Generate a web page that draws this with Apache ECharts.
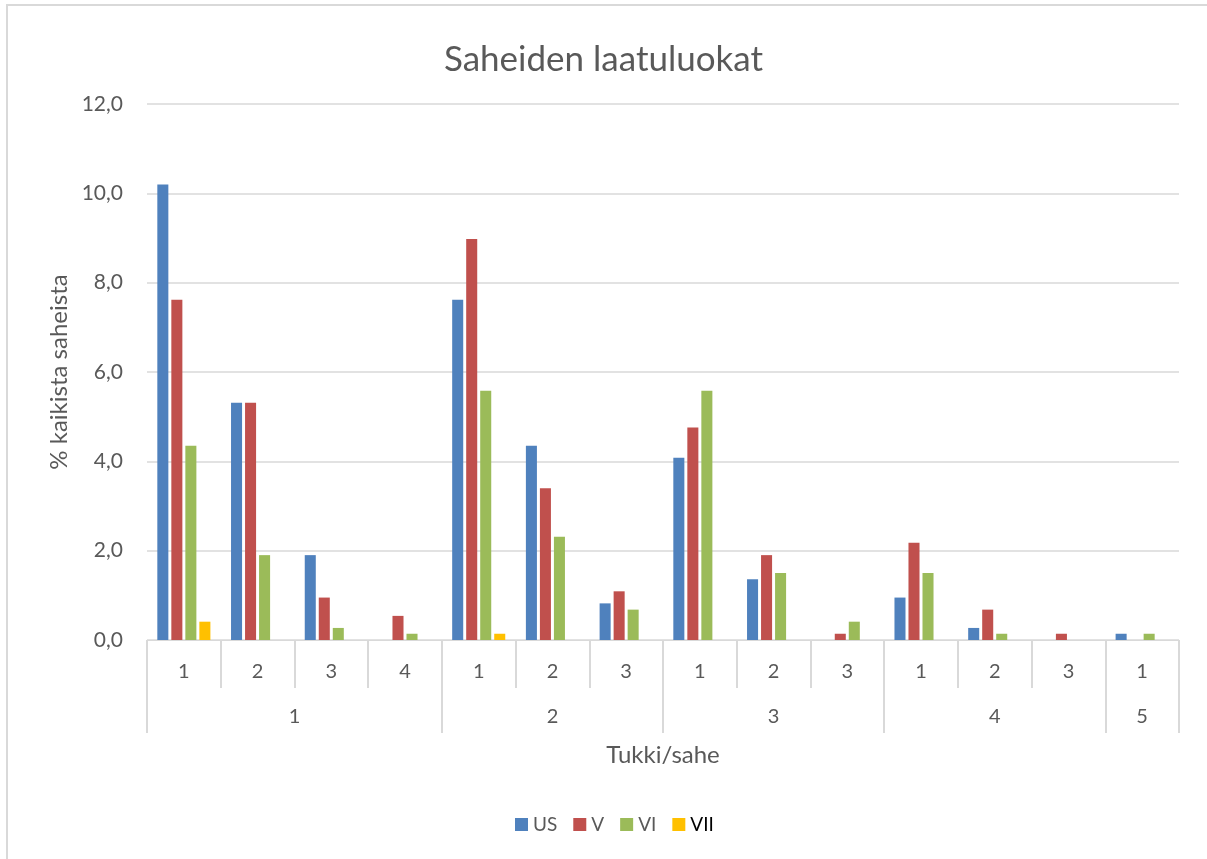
<!DOCTYPE html>
<html>
<head>
<meta charset="utf-8">
<script src="https://cdn.jsdelivr.net/npm/echarts@6/dist/echarts.min.js"></script>
<style>
html,body{margin:0;padding:0;background:#fff;}
#chart{width:1207px;height:859px;}
</style>
</head>
<body>
<div id="chart"></div>
<script>
const subCategories = ['1','2','3','4','1','2','3','1','2','3','1','2','3','1'];
const groupLabels = ['1','2','3','4','5'];
const groupSizes = [4,3,3,3,1];
const seriesNames = ['US','V','VI','VII'];
const US  = [10.20,5.31,1.90,0,   7.62,4.35,0.82,4.08,1.36,0,   0.95,0.27,0,   0.14];
const V   = [7.62, 5.31,0.95,0.54,8.98,3.40,1.09,4.76,1.90,0.14,2.18,0.68,0.14,0];
const VI  = [4.35, 1.90,0.27,0.14,5.58,2.31,0.68,5.58,1.50,0.41,1.50,0.14,0,   0.14];
const VII = [0.41, 0,   0,   0,   0.14,0,   0,   0,   0,   0,   0,   0,   0,   0];
const yTicks = [0,2,4,6,8,10,12];

const colors = ['#4f81bd','#c0504d','#9bbb59','#ffc000'];
const FONT = 'Lato, "Open Sans", sans-serif';
const grey = '#595959';
const lineGrey = '#d9d9d9';

const bounds = [0];
groupSizes.forEach(s => bounds.push(bounds[bounds.length-1] + s));
const centers = groupSizes.map((s,i) => bounds[i] + s/2);

const chart = echarts.init(document.getElementById('chart'), null, {renderer:'canvas'});
const dataSets = [US, V, VI, VII];

chart.setOption({
  animation:false,
  color: colors,
  textStyle:{fontFamily:FONT},
  title:{
    text:'Saheiden laatuluokat',
    left:'center', top:37,
    textStyle:{fontFamily:FONT, fontSize:35, fontWeight:'normal', color:grey}
  },
  graphic:[{
    type:'rect', shape:{x:7, y:5, width:1230, height:900},
    style:{fill:'none', stroke:lineGrey, lineWidth:2}, silent:true, z:-1
  }],
  legend:{
    bottom:20, left:510,
    itemWidth:13, itemHeight:13, itemGap:16,
    icon:'rect',
    textStyle:{fontFamily:FONT, fontSize:19, color:grey},
    data: seriesNames.map(n => n === 'VII' ? {name:n, textStyle:{color:'#000'}} : {name:n})
  },
  grid:{left:147, right:28, top:104, bottom:219, containLabel:false},
  xAxis:[{
    type:'category',
    data: subCategories,
    boundaryGap:true,
    axisLine:{show:true, lineStyle:{color:lineGrey, width:1}},
    axisTick:{show:true, interval:0, length:48, lineStyle:{color:lineGrey, width:2}},
    axisLabel:{interval:0, margin:22, fontSize:20, color:grey, fontFamily:FONT},
    splitLine:{show:false}
  },{
    type:'value',
    min:0, max:subCategories.length,
    position:'bottom', offset:48,
    axisLine:{show:false},
    axisTick:{show:true, customValues:bounds, length:45, lineStyle:{color:lineGrey, width:2}},
    axisLabel:{show:true, customValues:centers, margin:19, fontSize:20, color:grey, fontFamily:FONT,
      formatter:function(v){ const i = centers.indexOf(v); return i >= 0 ? groupLabels[i] : ''; }},
    splitLine:{show:false},
    name:'Tukki/sahe', nameLocation:'middle', nameGap:55,
    nameTextStyle:{fontSize:24, color:grey, fontFamily:FONT}
  }],
  yAxis:{
    type:'value', min:0, max:12, interval:2,
    axisLine:{show:false}, axisTick:{show:false},
    axisLabel:{fontSize:21, color:grey, fontFamily:FONT, margin:24,
      formatter:function(v){ return yTicks.indexOf(v) >= 0 ? v.toFixed(1).replace('.', ',') : ''; }},
    splitLine:{lineStyle:{color:lineGrey, width:1.5}},
    name:'% kaikista saheista', nameLocation:'middle', nameGap:74, nameRotate:90,
    nameTextStyle:{fontSize:24, color:grey, fontFamily:FONT}
  },
  series: seriesNames.map((n,i) => ({
    name:n, type:'bar', xAxisIndex:0,
    data: dataSets[i],
    barGap:'27%', barCategoryGap:'28%',
    itemStyle:{color:colors[i]}
  }))
});
</script>
</body>
</html>
